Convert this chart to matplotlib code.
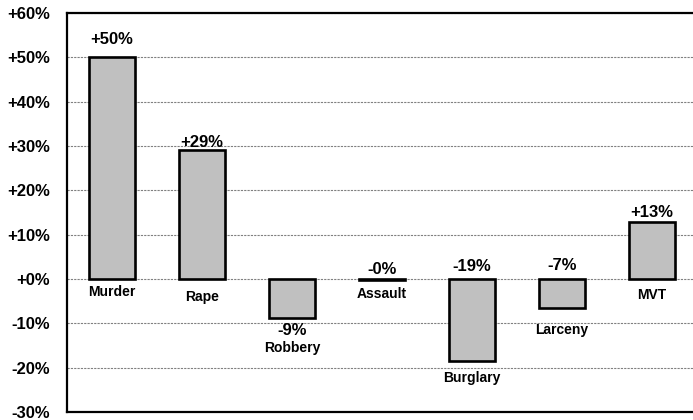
import matplotlib
matplotlib.use("Agg")
import matplotlib.pyplot as plt
from matplotlib.ticker import FuncFormatter

plt.rcParams['font.family'] = ['Liberation Sans', 'DejaVu Sans']
plt.rcParams['font.weight'] = 'bold'

crimes = ["Murder", "Rape", "Robbery", "Assault", "Burglary", "Larceny", "MVT"]
change = [50, 29, -8.8, -0.3, -18.5, -6.6, 12.9]
value_text = ["+50%", "+29%", "-9%", "-0%", "-19%", "-7%", "+13%"]

# label offsets in pixels (value label: + is up, name label: down)
val_off = [18, 8, -12.5, 10, 12.5, 13, 9]
name_off = [13.5, 17.5, 30, 14, 17, 22, 16]

fig = plt.figure(figsize=(6.93, 4.2), dpi=100)
ax = fig.add_axes([67/693, 8/420, 626/693, 399/420])

x = list(range(len(crimes)))
ax.bar(x, change, width=0.51, color="#c0c0c0", edgecolor="black", linewidth=1.9, zorder=3)

ax.set_xlim(-0.5, 6.455)
ax.set_ylim(-30, 60)
ax.set_yticks(range(-30, 61, 10))
ax.yaxis.set_major_formatter(FuncFormatter(lambda v, p: "%+d%%" % v))
ax.tick_params(axis='y', length=0, pad=12.5, labelsize=12)
ax.set_xticks([])
ax.grid(axis='y', linestyle=(0, (2, 1)), color="#808080", linewidth=0.8, zorder=0)
for s in ["left", "top", "bottom"]:
    ax.spines[s].set_linewidth(1.6)
ax.spines["right"].set_visible(False)

for i, v in enumerate(change):
    if val_off[i] > 0:
        anchor = max(v, 0)
    else:
        anchor = min(v, 0)
    ax.annotate(value_text[i], (i, anchor), xytext=(0, val_off[i]), textcoords='offset pixels',
                ha='center', va='center', fontsize=12, fontweight='bold', zorder=5)
    ax.annotate(crimes[i], (i, min(v, 0)), xytext=(0, -name_off[i]), textcoords='offset pixels',
                ha='center', va='center', fontsize=10, fontweight='bold', zorder=5)

fig.savefig("out.png", dpi=100)
